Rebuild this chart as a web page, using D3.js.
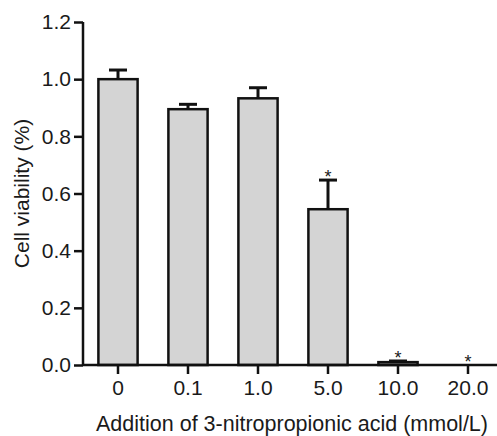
<!DOCTYPE html>
<html lang="en">
<head>
<meta charset="utf-8">
<title>Cell viability</title>
<script src="https://cdn.jsdelivr.net/npm/d3@7"></script>
<style>
  body { margin: 0; background: #fff; }
  text { font-family: "Liberation Sans", Arial, sans-serif; fill: #1a1a1a; }
</style>
</head>
<body>
<div id="chart"></div>
<script>
// data
var doses = ["0", "0.1", "1.0", "5.0", "10.0", "20.0"]
var viability = [1.0, 0.895, 0.933, 0.545, 0.01, 0]
var errors = [0.032, 0.017, 0.037, 0.102, 0.004, 0]
var significant = [false, false, false, true, true, true]
var yTicks = [0, 0.2, 0.4, 0.6, 0.8, 1.0, 1.2]

var width = 497, height = 436
var margin = {top: 22, right: 0, bottom: 71, left: 83}

var svg = d3.select("#chart").append("svg")
  .attr("width", width)
  .attr("height", height)

var data = doses.map(function(d, i) {
  return {dose: d, v: viability[i], e: errors[i], sig: significant[i]}
})

var x = d3.scaleBand()
  .domain(doses)
  .range([margin.left, margin.left + 70 * 6])
  .paddingInner(0.44)
  .paddingOuter(0.22)

var y = d3.scaleLinear()
  .domain([0, 1.2])
  .range([height - margin.bottom, margin.top])

// bars
svg.append("g").selectAll("rect")
  .data(data)
  .enter().append("rect")
    .attr("x", function(d) { return x(d.dose) })
    .attr("y", function(d) { return y(d.v) })
    .attr("width", x.bandwidth())
    .attr("height", function(d) { return y(0) - y(d.v) })
    .attr("fill", "#d4d4d4")
    .attr("stroke", "#111")
    .attr("stroke-width", 2.5)

// error bars (upper only)
var err = svg.append("g").selectAll("g")
  .data(data.filter(function(d) { return d.e > 0 }))
  .enter().append("g")
err.append("line")
  .attr("x1", function(d) { return x(d.dose) + x.bandwidth() / 2 })
  .attr("x2", function(d) { return x(d.dose) + x.bandwidth() / 2 })
  .attr("y1", function(d) { return y(d.v) })
  .attr("y2", function(d) { return y(d.v + d.e) })
  .attr("stroke", "#111").attr("stroke-width", 3)
err.append("line")
  .attr("x1", function(d) { return x(d.dose) + x.bandwidth() / 2 - 9 })
  .attr("x2", function(d) { return x(d.dose) + x.bandwidth() / 2 + 9 })
  .attr("y1", function(d) { return y(d.v + d.e) })
  .attr("y2", function(d) { return y(d.v + d.e) })
  .attr("stroke", "#111").attr("stroke-width", 3)

// significance stars
svg.append("g").selectAll("text")
  .data(data.filter(function(d) { return d.sig }))
  .enter().append("text")
    .attr("x", function(d) { return x(d.dose) + x.bandwidth() / 2 })
    .attr("y", function(d) { return y(d.v + d.e) + 3 })
    .attr("text-anchor", "middle")
    .attr("font-size", 18)
    .text("*")

// axes
var yAxis = svg.append("g")
  .attr("transform", "translate(" + margin.left + ",0)")
  .call(d3.axisLeft(y).tickValues(yTicks).tickFormat(d3.format(".1f")).tickSize(9).tickPadding(3))
var xAxis = svg.append("g")
  .attr("transform", "translate(0," + y(0) + ")")
  .call(d3.axisBottom(x).tickSize(9).tickPadding(6))

;[yAxis, xAxis].forEach(function(a) {
  a.select(".domain").attr("stroke", "#111").attr("stroke-width", 2.5)
  a.selectAll(".tick line").attr("stroke", "#111").attr("stroke-width", 2.5)
  a.selectAll(".tick text").attr("font-size", 21).attr("font-family", "Liberation Sans, Arial, sans-serif").attr("fill", "#1a1a1a")
})
yAxis.select(".domain").attr("d", "M0," + y(1.2) + "V" + y(0))
xAxis.select(".domain").attr("d", "M" + margin.left + ",0H" + width)

// axis titles
svg.append("text")
  .attr("x", 292)
  .attr("y", 431)
  .attr("text-anchor", "middle")
  .attr("font-size", 21.5)
  .text("Addition of 3-nitropropionic acid (mmol/L)")

svg.append("text")
  .attr("transform", "translate(29," + (y(0.6)) + ") rotate(-90)")
  .attr("text-anchor", "middle")
  .attr("font-size", 21)
  .text("Cell viability (%)")
</script>
</body>
</html>
